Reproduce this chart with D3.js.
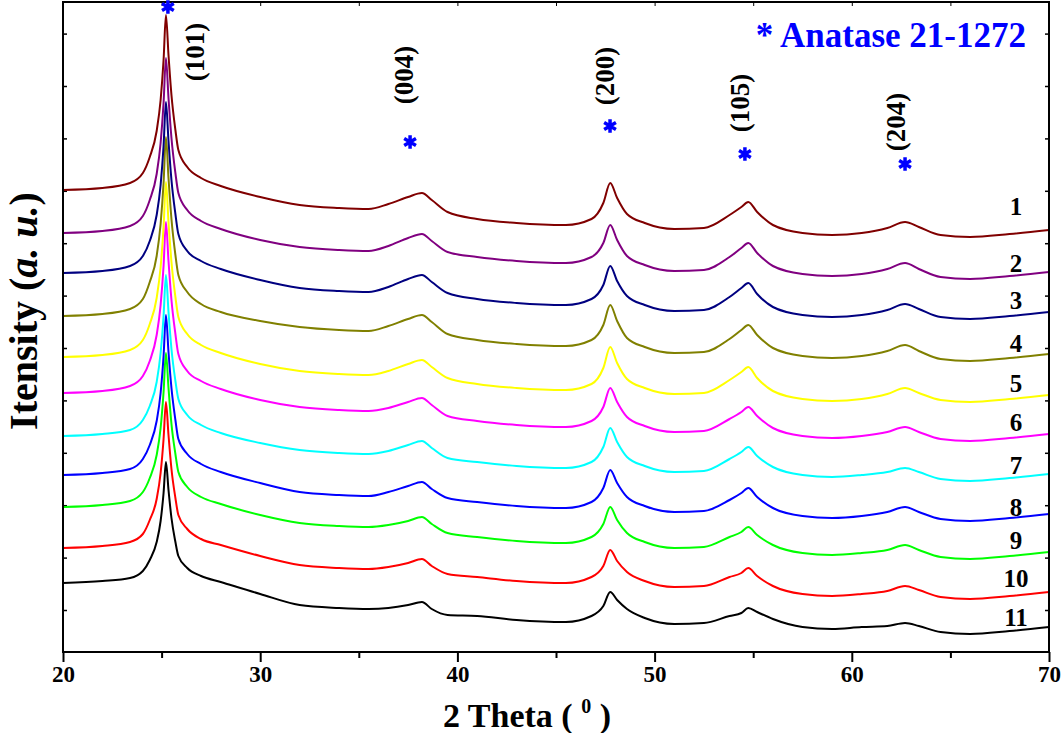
<!DOCTYPE html>
<html>
<head>
<meta charset="utf-8">
<script src="https://cdn.jsdelivr.net/npm/d3@7"></script>
<style>
body { margin: 0; background: #fff; }
text { font-family: "Liberation Serif", "Times New Roman", serif; font-weight: bold; }
</style>
</head>
<body>
<div id="chart"></div>
<script>
// 2 theta grid shared by every pattern
var twoTheta = [20,22,23.4,24.05,24.4,24.75,24.95,25.1,25.22,25.35,25.5,25.7,25.85,26.3,27,28,30,32,34,35.5,36.5,37.5,38.2,38.7,39.5,41,43,45.5,46.8,47.4,47.75,48.1,48.6,49.5,51,52.5,53.8,54.4,54.75,55.2,56,57.5,59,60.5,61.8,62.7,63.4,64.5,66,68,70];

// intensities (a.u., stacked)
var s1 = [462,464,469,479,495,521,552,592,637,597,557,522,502,485,474,466,455,447,444,443,448,455,459,452,440,433,429,427,433,449,469,454,438,429,423,424,437,445,450,440,427,419,417,419,424,430,425,417,415,418,422];
var s2 = [419,421,426,436,452,478,509,549,594,554,514,479,459,442,431,423,412,405,402,401,406,414,418,411,400,395,391,389,395,409,427,412,396,387,381,382,395,404,409,399,386,378,376,378,383,389,383,375,373,376,380];
var s3 = [379,381,386,396,411,437,467,506,550,511,472,438,418,401,391,383,372,364,361,360,365,373,377,370,359,353,349,347,353,367,386,371,356,347,341,342,355,364,369,358,345,337,335,337,342,348,343,335,333,336,340];
var s4 = [336,338,343,353,370,396,428,469,515,474,433,397,377,360,348,340,331,325,322,321,326,333,337,330,318,312,308,306,312,327,347,331,314,305,299,300,313,322,327,317,304,296,294,296,301,307,301,293,291,294,298];
var s5 = [295,297,302,312,328,354,385,425,470,430,390,355,335,318,307,299,288,281,278,277,281,288,292,285,274,268,264,262,268,284,305,289,273,264,258,259,272,280,285,274,261,253,251,253,258,264,259,252,250,253,257];
var s6 = [259,261,266,276,291,317,347,386,430,391,352,318,298,281,271,263,252,245,242,241,244,250,254,247,236,231,227,225,231,245,264,250,235,226,220,221,233,240,245,236,224,216,214,216,220,225,220,213,211,214,218];
var s7 = [216,218,222,232,246,270,299,336,377,340,303,271,253,237,227,219,209,202,199,198,201,207,211,204,194,190,186,184,190,205,224,210,195,186,180,181,193,200,205,196,185,177,175,177,180,184,180,173,171,174,178];
var s8 = [177,179,183,193,207,231,259,296,337,300,264,232,213,198,188,180,169,160,157,156,160,166,170,163,154,150,146,144,150,164,182,169,155,146,140,141,152,159,164,155,144,136,134,136,140,145,140,133,131,134,138];
var s9 = [145,147,151,160,174,197,224,260,299,264,228,198,180,165,155,148,137,129,126,125,127,131,135,128,119,115,111,109,115,128,145,132,119,110,104,105,115,120,125,117,107,99,97,99,102,107,102,95,93,96,100];
var s10 = [104,106,110,118,132,153,179,213,250,217,183,154,137,123,113,107,96,87,84,83,85,89,93,86,78,75,71,69,75,86,102,91,80,71,65,66,75,79,84,76,66,58,56,58,61,66,62,55,53,56,60];
var s11 = [69,71,74,81,92,110,131,159,190,162,134,110,96,84,76,70,58,47,44,43,44,47,50,43,37,36,32,30,36,46,60,52,43,34,28,29,36,39,44,40,33,25,23,25,26,29,26,20,18,21,25];

var series = [s1, s2, s3, s4, s5, s6, s7, s8, s9, s10, s11];
var sampleNames = ["1","2","3","4","5","6","7","8","9","10","11"];
var colours = ["#800000","#800080","#000080","#808000","#ffff00","#ff00ff","#00ffff","#0000ff","#00ff00","#ff0000","#000000"];
var nameAt = [446,389,352,309,269,230,187,145,112,74,35];

// anatase reflections
var peakHkl = ["(101)","(004)","(200)","(105)","(204)"];
var peakPos = [25.32,37.6,47.74,54.58,62.7];
var starAt = [645,510,526,498,488];
var hklPos = [26.69,37.29,47.48,54.33,62.24];
var hklAt = [600,577,576,549,530];

var xTicks = [20,30,40,50,60,70];
var xMinor = [25,35,45,55,65];

var width = 1063, height = 733;
var svg = d3.select("#chart").append("svg")
	.attr("width", width)
	.attr("height", height);

var x = d3.scaleLinear().domain([20, 70]).range([63, 1049]);
var y = d3.scaleLinear().domain([0, 650]).range([652, 2]);
var yTicks = d3.range(42, 640, 52.4);

// axes
svg.append("g")
	.attr("transform", "translate(0,652)")
	.call(d3.axisBottom(x).tickValues(xTicks).tickSize(10).tickPadding(4).tickFormat(d3.format("d")))
	.call(function (g) {
		g.select(".domain").remove();
		g.selectAll("line").attr("stroke-width", 2);
		g.selectAll("text").attr("font-size", 23).attr("font-family", null);
	});
svg.append("g")
	.attr("transform", "translate(0,652)")
	.call(d3.axisBottom(x).tickValues(xMinor).tickSize(6).tickFormat(""))
	.call(function (g) {
		g.select(".domain").remove();
		g.selectAll("line").attr("stroke-width", 2);
	});
svg.append("g")
	.attr("transform", "translate(0,2)")
	.call(d3.axisTop(x).tickValues(xTicks.concat(xMinor)).tickSize(-4).tickFormat(""))
	.call(function (g) { g.select(".domain").remove(); });
svg.append("g")
	.attr("transform", "translate(63,0)")
	.call(d3.axisLeft(y).tickValues(yTicks).tickSize(-4).tickFormat(""))
	.call(function (g) { g.select(".domain").remove(); g.selectAll("line").attr("stroke-width", 1.5); });
svg.append("g")
	.attr("transform", "translate(1049,0)")
	.call(d3.axisRight(y).tickValues(yTicks).tickSize(-4).tickFormat(""))
	.call(function (g) { g.select(".domain").remove(); g.selectAll("line").attr("stroke-width", 1.5); });

// patterns
var line = d3.line()
	.x(function (d, i) { return x(twoTheta[i]); })
	.y(function (d) { return y(d); })
	.curve(d3.curveMonotoneX);

svg.append("g").selectAll("path")
	.data(series.slice().reverse())
	.enter().append("path")
	.attr("d", line)
	.attr("fill", "none")
	.attr("stroke", function (d, i) { return colours[series.length - 1 - i]; })
	.attr("stroke-width", 2)
	.attr("stroke-linejoin", "round");

// frame
svg.append("rect")
	.attr("x", 63).attr("y", 2)
	.attr("width", 986).attr("height", 650)
	.attr("fill", "none")
	.attr("stroke", "#000")
	.attr("stroke-width", 2);

// sample numbers
svg.append("g").selectAll("text")
	.data(sampleNames)
	.enter().append("text")
	.attr("x", x(68.33))
	.attr("y", function (d, i) { return y(nameAt[i]); })
	.attr("dy", "0.35em")
	.attr("text-anchor", "middle")
	.attr("font-size", 25)
	.text(function (d) { return d; });

// stars over the reflections
svg.append("g").selectAll("path")
	.data(peakPos)
	.enter().append("path")
	.attr("transform", function (d, i) { return "translate(" + x(d) + "," + y(starAt[i]) + ")"; })
	.attr("d", d3.symbol().type(d3.symbolAsterisk).size(130))
	.attr("fill", "none")
	.attr("stroke", "#0000ff")
	.attr("stroke-width", 3.5);

// hkl labels
svg.append("g").selectAll("text")
	.data(peakHkl)
	.enter().append("text")
	.attr("transform", function (d, i) { return "translate(" + (x(hklPos[i]) + 9) + "," + y(hklAt[i]) + ") rotate(-90)"; })
	.attr("text-anchor", "middle")
	.attr("font-size", 27)
	.text(function (d) { return d; });

// legend
svg.append("text")
	.attr("x", 1026)
	.attr("y", 47)
	.attr("text-anchor", "end")
	.attr("font-size", 35)
	.attr("fill", "#0000ff")
	.text("* Anatase 21-1272");

// axis titles
var xt = svg.append("text")
	.attr("x", 527)
	.attr("y", 727)
	.attr("text-anchor", "middle")
	.attr("font-size", 34);
xt.append("tspan").text("2 Theta ( ");
xt.append("tspan").attr("font-size", 20).attr("dy", -14).text("0");
xt.append("tspan").attr("dy", 14).text(" )");

var yt = svg.append("text")
	.attr("transform", "translate(37,311) rotate(-90)")
	.attr("text-anchor", "middle")
	.attr("font-size", 40);
yt.append("tspan").text("Itensity (");
yt.append("tspan").attr("font-style", "italic").text("a. u.");
yt.append("tspan").text(")");
</script>
</body>
</html>
